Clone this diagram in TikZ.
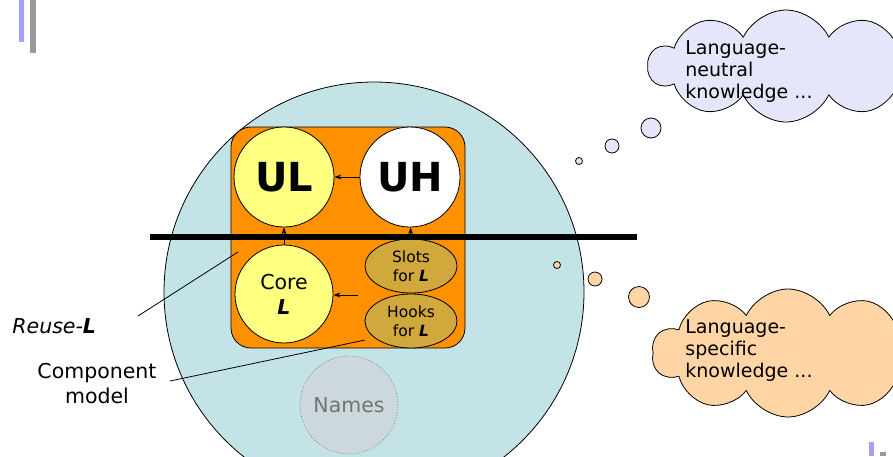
\documentclass[tikz,border=0pt]{standalone}
\usepackage{fontspec}
\setmainfont{DejaVu Sans}
\usetikzlibrary{shapes.symbols,shapes.geometric,arrows.meta}
\definecolor{sea}{HTML}{C4E3E6}
\definecolor{tangerine}{HTML}{FF9000}
\definecolor{lemon}{HTML}{FFFF80}
\definecolor{ochre}{HTML}{D0A83C}
\definecolor{mist}{HTML}{CCD8DC}
\definecolor{lilac}{HTML}{E6E6FA}
\definecolor{peach}{HTML}{FFD5A5}
\definecolor{barblue}{HTML}{A0A0FF}
\definecolor{bargray}{HTML}{999999}
\tikzset{
  part/.style={circle,draw,minimum size=100pt,inner sep=0pt},
  slot/.style={ellipse,draw,fill=ochre,minimum width=92pt,minimum height=54pt,inner sep=0pt,align=center,font=\fontsize{15.5}{19}\selectfont},
  thought/.style={cloud,cloud puffs=10,cloud puff arc=130,cloud ignores aspect,draw,inner sep=0pt},
  cloudtext/.style={anchor=west,inner sep=0pt,align=left,font=\fontsize{19}{22}\selectfont},
}
\begin{document}
\begin{tikzpicture}[x=1pt,y=-1pt,>={Stealth[length=7pt,width=5pt]},line width=0.8pt,line join=round,font=\fontsize{20.5}{25}\selectfont]
  \useasboundingbox (0,0) rectangle (893,456);
  \clip (0,0) rectangle (893,456);
  % corner marks
  \fill[barblue] (19,0) rectangle (24,42);
  \fill[bargray] (30,0) rectangle (36,53);
  \fill[barblue] (869,442) rectangle (874,456);
  \fill[bargray] (880,452) rectangle (886,456);
  % reuse model
  \draw[fill=sea] (374,292) circle (210);
  \draw[fill=tangerine,rounded corners=20pt] (231,127) rectangle (465,348);
  \node[part,fill=lemon,font=\fontsize{40}{40}\selectfont\bfseries] (ul) at (284,177) {UL};
  \node[part,fill=white,font=\fontsize{40}{40}\selectfont\bfseries] (uh) at (410,177) {UH};
  \node[part,fill=lemon,minimum size=98pt,align=center] (core) at (284,294) {Core\\\textbf{\textit{L}}};
  \node[slot] (slots) at (411,266) {Slots\\for \textbf{\textit{L}}};
  \node[slot] (hooks) at (411,321) {Hooks\\for \textbf{\textit{L}}};
  \node[circle,draw=gray,dotted,fill=mist,minimum size=98pt,text=black!55] (names) at (349,405) {Names};
  \coordinate (hookstail) at (358,295);
  \draw[->] (uh) -- (ul);
  \draw[->] (core) -- (ul);
  \draw[->] (slots) -- (uh);
  \draw[->] (hookstail) -- (hookstail -| core.east);
  \coordinate (barl) at (150,237);
  \coordinate (barr) at (637,237);
  \draw[line width=6pt] (barl) -- (barr);
  % labels
  \node[anchor=base west,inner sep=0pt] (reuse) at (12,333) {\textit{Reuse-}\textbf{\textit{L}}};
  \node[align=center,inner sep=0pt] (comp) at (97,384) {Component\\model};
  \coordinate (reusefrom) at (138,316);
  \coordinate (reuseto) at (238,252);
  \draw (reusefrom) -- (reuseto);
  \coordinate (compfrom) at (170,381);
  \coordinate (compto) at (365,340);
  \draw (compfrom) -- (compto);
  % thoughts
  \foreach \x/\y/\r in {579/161/3.5,612/146/7,651/128/10}
    \draw[fill=lilac] (\x,\y) circle (\r);
  \foreach \x/\y/\r in {557/265/3.5,595/279/7,639/297/10.5}
    \draw[fill=peach] (\x,\y) circle (\r);
  \node[thought,fill=lilac,minimum width=275pt,minimum height=112pt] (neutral) at (786,66) {};
  \node[cloudtext] (neutraltext) at (685,72) {Language-\\neutral\\knowledge ...};
  \node[thought,fill=peach,minimum width=272pt,minimum height=128pt] (specific) at (788,353) {};
  \node[cloudtext] (specifictext) at (685,351) {Language-\\specific\\knowledge ...};
\end{tikzpicture}
\end{document}
